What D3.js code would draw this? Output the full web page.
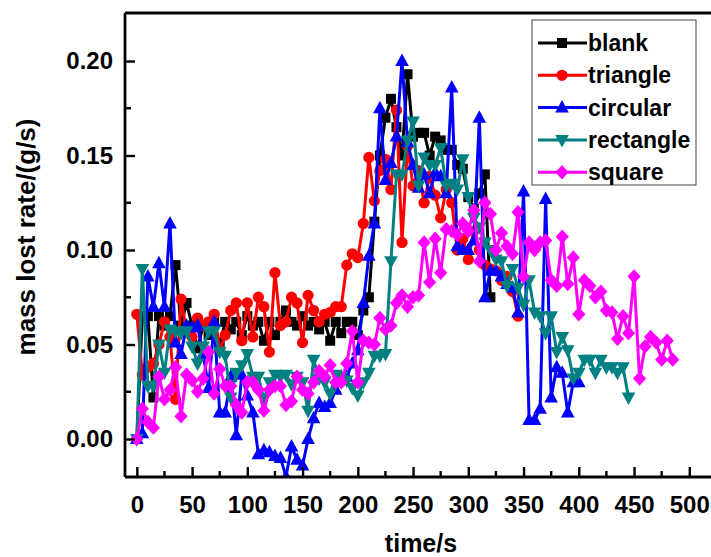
<!DOCTYPE html>
<html><head><meta charset="utf-8">
<script src="https://cdn.jsdelivr.net/npm/d3@7"></script>
<style>html,body{margin:0;padding:0;background:#fff}svg{display:block}text{font-family:"Liberation Sans",Arial,sans-serif;font-weight:bold}</style>
</head><body><svg id="c" width="711" height="557"></svg>
<script>
const times = [0,5,10,15,20,25,30,35,40,45,50,55,60,65,70,75,80,85,90,95,100,105,110,115,120,125,130,135,140,145,150,155,160,165,170,175,180,185,190,195,200,205,210,215,220,225,230,235,240,245,250,255,260,265,270,275,280,285,290,295,300,305,310,315,320,325,330,335,340,345,350,355,360,365,370,375,380,385,390,395,400,405,410,415,420,425,430,435,440,445,450,455,460,465,470,475,480,485];
const blank = [0.000,0.065,0.065,0.022,0.065,0.060,0.065,0.092,0.060,0.072,0.060,0.048,0.060,0.055,0.062,0.050,0.062,0.058,0.062,0.055,0.065,0.060,0.062,0.052,0.062,0.055,0.062,0.068,0.062,0.060,0.065,0.060,0.062,0.058,0.062,0.052,0.062,0.056,0.062,0.062,0.055,0.068,0.075,0.115,0.150,0.170,0.180,0.165,0.150,0.193,0.160,0.162,0.162,0.150,0.160,0.158,0.153,0.153,0.145,0.143,0.128,0.122,0.130,0.140,0.075];
const triangle = [0.066,0.034,0.038,0.040,0.050,0.062,0.054,0.021,0.074,0.057,0.054,0.064,0.060,0.062,0.066,0.047,0.055,0.068,0.072,0.052,0.072,0.054,0.075,0.070,0.046,0.088,0.060,0.062,0.075,0.072,0.051,0.076,0.068,0.062,0.066,0.067,0.070,0.070,0.092,0.098,0.096,0.114,0.149,0.126,0.142,0.148,0.132,0.174,0.104,0.155,0.134,0.142,0.125,0.139,0.129,0.117,0.132,0.125,0.100,0.106,0.095,0.110,0.100,0.092,0.090,0.089,0.084,0.086,0.078,0.065];
const circular = [0.000,0.003,0.086,0.070,0.093,0.070,0.114,0.051,0.045,0.060,0.059,0.060,0.045,0.027,0.062,0.014,0.014,0.033,0.002,0.034,0.023,0.014,-0.008,-0.006,-0.007,-0.009,-0.010,-0.020,-0.004,-0.011,-0.014,0.000,0.011,0.019,0.017,0.019,0.026,0.033,0.033,0.040,0.047,0.072,0.097,0.114,0.175,0.137,0.146,0.160,0.200,0.157,0.145,0.133,0.140,0.130,0.141,0.139,0.130,0.186,0.102,0.100,0.100,0.105,0.170,0.075,0.089,0.089,0.086,0.082,0.080,0.067,0.131,0.010,0.010,0.016,0.127,0.022,0.038,0.035,0.014,0.030,0.030];
const rectangle = [0.000,0.090,0.028,0.028,0.050,0.035,0.058,0.057,0.056,0.057,0.049,0.040,0.049,0.057,0.057,0.046,0.044,0.022,0.035,0.039,0.045,0.033,0.033,0.021,0.030,0.034,0.033,0.034,0.029,0.033,0.030,0.015,0.042,0.032,0.030,0.024,0.034,0.033,0.031,0.027,0.023,0.030,0.035,0.044,0.044,0.045,0.094,0.140,0.140,0.158,0.168,0.134,0.149,0.145,0.145,0.154,0.134,0.135,0.132,0.148,0.128,0.117,0.112,0.104,0.100,0.095,0.094,0.081,0.090,0.080,0.071,0.084,0.067,0.065,0.056,0.065,0.046,0.054,0.047,0.032,0.035,0.042,0.042,0.035,0.042,0.038,0.038,0.035,0.038,0.022];
const square = [0.000,0.016,0.009,0.006,0.033,0.021,0.026,0.038,0.012,0.034,0.031,0.025,0.032,0.046,0.024,0.037,0.028,0.028,0.018,0.014,0.030,0.030,0.026,0.015,0.026,0.028,0.028,0.018,0.020,0.033,0.026,0.024,0.030,0.036,0.033,0.039,0.030,0.030,0.040,0.057,0.030,0.052,0.051,0.050,0.064,0.058,0.060,0.072,0.076,0.070,0.075,0.076,0.104,0.083,0.106,0.088,0.111,0.110,0.108,0.114,0.110,0.121,0.094,0.125,0.119,0.100,0.109,0.102,0.098,0.120,0.086,0.104,0.100,0.104,0.105,0.084,0.081,0.107,0.082,0.096,0.066,0.084,0.081,0.075,0.078,0.068,0.067,0.053,0.065,0.056,0.086,0.032,0.049,0.054,0.051,0.042,0.052,0.042];
const seriesNames = ["blank","triangle","circular","rectangle","square"];
const seriesColors = ["#000000","#ff0000","#0000ff","#008080","#ff00ff"];
const xTicks = [0,50,100,150,200,250,300,350,400,450,500];
const yTicks = [0.00,0.05,0.10,0.15,0.20];
const xLabel = "time/s";
const yLabel = "mass lost rate/(g/s)";

const svg = d3.select("#c");
const L = 125, R = 713.6, T = 13, B = 477;
const x = d3.scaleLinear().domain([-10.7, 522]).range([L, R]);
const y = d3.scaleLinear().domain([-0.0201, 0.2254]).range([B, T]);

const seriesData = [blank, triangle, circular, rectangle, square];
const markerPaths = [
  "M-5,-5H5V5H-5Z",
  d3.symbol().type(d3.symbolCircle).size(100)(),
  "M0,-7.5L6.8,5L-6.8,5Z",
  "M0,7.5L6.8,-5L-6.8,-5Z",
  "M0,-7.2L6.6,0L0,7.2L-6.6,0Z"
];

svg.append("defs").append("clipPath").attr("id","clip")
  .append("rect").attr("x",L).attr("y",T).attr("width",R-L).attr("height",B-T);

const plot = svg.append("g").attr("clip-path","url(#clip)");
seriesData.forEach((vals, i) => {
  const pts = vals.map((v, k) => [times[k], v]);
  const g = plot.append("g");
  g.append("path").datum(pts)
    .attr("fill","none").attr("stroke",seriesColors[i]).attr("stroke-width",3)
    .attr("stroke-linejoin","round")
    .attr("d", d3.line().x(d=>x(d[0])).y(d=>y(d[1])));
  g.selectAll("path.m").data(pts).enter().append("path").attr("class","m")
    .attr("d", markerPaths[i]).attr("fill",seriesColors[i])
    .attr("transform", d => `translate(${x(d[0])},${y(d[1])})`);
});

// frame
const frame = svg.append("g").attr("stroke","#000").attr("stroke-width",2.8).attr("fill","none");
frame.append("line").attr("x1",L).attr("x2",R).attr("y1",T).attr("y2",T);
frame.append("line").attr("x1",R).attr("x2",R).attr("y1",T).attr("y2",B);

// x axis
const xAxis = d3.axisBottom(x).tickValues(xTicks).tickSize(-10).tickPadding(14).tickFormat(d3.format("d"));
const gx = svg.append("g").attr("transform",`translate(0,${B})`).call(xAxis);
gx.select(".domain").attr("d",`M${L},0H${R}`).attr("stroke-width",2.8);
gx.selectAll(".tick line").attr("stroke-width",2.4);
gx.selectAll(".tick text").attr("font-size",24).attr("fill","#000").attr("dy","0.9em");
const xMinor = [25,75,125,175,225,275,325,375,425,475];
gx.selectAll(".minor").data(xMinor).enter().append("line").attr("class","minor")
  .attr("x1",d=>x(d)).attr("x2",d=>x(d)).attr("y1",0).attr("y2",-6).attr("stroke","#000").attr("stroke-width",2.4);

// y axis
const yAxis = d3.axisLeft(y).tickValues(yTicks).tickSize(-10).tickPadding(12).tickFormat(d3.format(".2f"));
const gy = svg.append("g").attr("transform",`translate(${L},0)`).call(yAxis);
gy.select(".domain").attr("d",`M0,${B}V${T}`).attr("stroke-width",2.8);
gy.selectAll(".tick line").attr("stroke-width",2.4);
gy.selectAll(".tick text").attr("font-size",24).attr("fill","#000");
const yMinor = [0.025, 0.075, 0.125, 0.175];
gy.selectAll(".minor").data(yMinor).enter().append("line").attr("class","minor")
  .attr("x1",0).attr("x2",6).attr("y1",d=>y(d)).attr("y2",d=>y(d)).attr("stroke","#000").attr("stroke-width",2.4);

// titles
svg.append("text").attr("x",421).attr("y",552).attr("text-anchor","middle").attr("font-size",25).text(xLabel);
svg.append("text").attr("transform","translate(35,237) rotate(-90)").attr("text-anchor","middle").attr("font-size",26).text(yLabel);

// legend
const lg = svg.append("g");
lg.append("rect").attr("x",532).attr("y",20).attr("width",164).attr("height",165)
  .attr("fill","#fff").attr("stroke","#444").attr("stroke-width",1);
seriesNames.forEach((n, i) => {
  const cy = 43 + i * 32.3;
  lg.append("line").attr("x1",538).attr("x2",587).attr("y1",cy).attr("y2",cy)
    .attr("stroke",seriesColors[i]).attr("stroke-width",3);
  lg.append("path").attr("d", markerPaths[i]).attr("fill",seriesColors[i]).attr("transform",`translate(562,${cy})`);
  lg.append("text").attr("x",588).attr("y",cy).attr("dy","0.35em").attr("font-size",23).text(n);
});
</script></body></html>
